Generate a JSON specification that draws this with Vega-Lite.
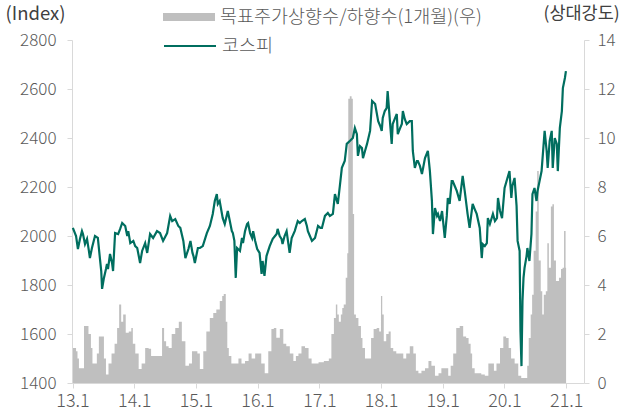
{
  "$schema": "https://vega.github.io/schema/vega-lite/v6.json",
  "width": 512,
  "height": 343,
  "autosize": {"type": "none"},
  "padding": {"left": 72, "top": 40, "right": 53, "bottom": 33},
  "background": "white",
  "config": {
    "view": {"stroke": null},
    "font": "Noto Sans CJK KR",
    "axis": {"grid": false, "labelFont": "Noto Sans CJK KR", "titleFont": "Noto Sans CJK KR", "labelFontSize": 17, "labelFontWeight": 300, "labelColor": "#595959", "domainColor": "#d9d9d9", "tickColor": "#d9d9d9", "tickSize": 5, "titleFontSize": 18.5, "titleFontWeight": 400, "titleColor": "#404040"},
    "legend": {"labelFont": "Noto Sans CJK KR", "labelFontSize": 18.5, "labelFontWeight": 300, "labelColor": "#595959", "labelLimit": 0, "padding": 0, "offset": 0}
  },
  "datasets": {
    "kospi": [
      {"date":"2013-01-03","kospi":2033},{"date":"2013-01-22","kospi":2000},{"date":"2013-02-02","kospi":1947},{"date":"2013-02-14","kospi":1988},{"date":"2013-02-26","kospi":2020},{"date":"2013-03-04","kospi":2008},{"date":"2013-03-16","kospi":1967},{"date":"2013-03-28","kospi":1988},{"date":"2013-04-08","kospi":1939},{"date":"2013-04-14","kospi":1910},{"date":"2013-04-26","kospi":1951},{"date":"2013-05-14","kospi":2000},{"date":"2013-05-31","kospi":1992},{"date":"2013-06-12","kospi":1910},{"date":"2013-06-20","kospi":1857},{"date":"2013-06-25","kospi":1784},{"date":"2013-07-06","kospi":1829},{"date":"2013-07-18","kospi":1865},{"date":"2013-07-24","kospi":1886},{"date":"2013-07-30","kospi":1865},{"date":"2013-08-11","kospi":1927},{"date":"2013-08-23","kospi":1890},{"date":"2013-08-29","kospi":1857},{"date":"2013-09-10","kospi":2012},{"date":"2013-09-28","kospi":2008},{"date":"2013-10-10","kospi":2029},{"date":"2013-10-22","kospi":2053},{"date":"2013-11-09","kospi":2041},{"date":"2013-11-21","kospi":2000},{"date":"2013-11-27","kospi":2020},{"date":"2013-12-09","kospi":1971},{"date":"2013-12-27","kospi":1980},
      {"date":"2014-01-07","kospi":1959},{"date":"2014-01-19","kospi":1951},{"date":"2014-02-05","kospi":1890},{"date":"2014-02-17","kospi":1939},{"date":"2014-03-07","kospi":1971},{"date":"2014-03-19","kospi":1931},{"date":"2014-04-05","kospi":2008},{"date":"2014-04-23","kospi":1992},{"date":"2014-05-16","kospi":2020},{"date":"2014-06-03","kospi":2012},{"date":"2014-06-21","kospi":1980},{"date":"2014-07-03","kospi":1996},{"date":"2014-07-15","kospi":2012},{"date":"2014-08-02","kospi":2082},{"date":"2014-08-14","kospi":2061},{"date":"2014-09-01","kospi":2069},{"date":"2014-09-19","kospi":2041},{"date":"2014-10-01","kospi":2033},{"date":"2014-10-19","kospi":1980},{"date":"2014-10-31","kospi":1910},{"date":"2014-11-18","kospi":1947},{"date":"2014-11-30","kospi":1980},{"date":"2014-12-12","kospi":1931},{"date":"2014-12-18","kospi":1918},{"date":"2014-12-26","kospi":1890},
      {"date":"2015-01-13","kospi":1951},{"date":"2015-01-25","kospi":1951},{"date":"2015-02-11","kospi":1959},{"date":"2015-03-07","kospi":2012},{"date":"2015-03-25","kospi":2041},{"date":"2015-04-11","kospi":2090},{"date":"2015-04-23","kospi":2143},{"date":"2015-05-05","kospi":2171},{"date":"2015-05-11","kospi":2131},{"date":"2015-05-22","kospi":2143},{"date":"2015-06-09","kospi":2073},{"date":"2015-06-21","kospi":2049},{"date":"2015-07-09","kospi":2102},{"date":"2015-07-21","kospi":2061},{"date":"2015-08-02","kospi":2020},{"date":"2015-08-08","kospi":2012},{"date":"2015-08-17","kospi":1980},{"date":"2015-08-25","kospi":1829},{"date":"2015-09-02","kospi":1951},{"date":"2015-09-19","kospi":1939},{"date":"2015-10-01","kospi":1992},{"date":"2015-10-07","kospi":1971},{"date":"2015-10-19","kospi":2020},{"date":"2015-10-31","kospi":2049},{"date":"2015-11-06","kospi":2053},{"date":"2015-11-18","kospi":2012},{"date":"2015-11-30","kospi":1992},{"date":"2015-12-06","kospi":2020},{"date":"2015-12-18","kospi":1980},{"date":"2015-12-30","kospi":1947},
      {"date":"2016-01-13","kospi":1931},{"date":"2016-01-25","kospi":1845},{"date":"2016-01-31","kospi":1898},{"date":"2016-02-11","kospi":1837},{"date":"2016-02-23","kospi":1918},{"date":"2016-03-13","kospi":1959},{"date":"2016-03-31","kospi":1988},{"date":"2016-04-23","kospi":2008},{"date":"2016-04-29","kospi":2029},{"date":"2016-05-11","kospi":2000},{"date":"2016-05-22","kospi":1988},{"date":"2016-05-28","kospi":1967},{"date":"2016-06-09","kospi":2000},{"date":"2016-06-21","kospi":2020},{"date":"2016-07-09","kospi":1931},{"date":"2016-07-21","kospi":1992},{"date":"2016-08-08","kospi":2020},{"date":"2016-08-26","kospi":2061},{"date":"2016-09-07","kospi":2053},{"date":"2016-09-19","kospi":2061},{"date":"2016-10-07","kospi":2069},{"date":"2016-10-19","kospi":2041},{"date":"2016-10-25","kospi":2020},{"date":"2016-11-06","kospi":2000},{"date":"2016-11-18","kospi":1980},{"date":"2016-12-06","kospi":1992},{"date":"2016-12-24","kospi":2041},
      {"date":"2017-01-07","kospi":2033},{"date":"2017-01-16","kospi":2033},{"date":"2017-02-03","kospi":2082},{"date":"2017-02-20","kospi":2094},{"date":"2017-03-04","kospi":2082},{"date":"2017-03-22","kospi":2090},{"date":"2017-04-03","kospi":2171},{"date":"2017-04-20","kospi":2131},{"date":"2017-05-02","kospi":2204},{"date":"2017-05-14","kospi":2278},{"date":"2017-05-31","kospi":2306},{"date":"2017-06-12","kospi":2376},{"date":"2017-06-30","kospi":2388},{"date":"2017-07-18","kospi":2400},{"date":"2017-07-30","kospi":2441},{"date":"2017-08-11","kospi":2416},{"date":"2017-08-17","kospi":2327},{"date":"2017-08-29","kospi":2367},{"date":"2017-09-10","kospi":2359},{"date":"2017-09-16","kospi":2318},{"date":"2017-09-28","kospi":2347},{"date":"2017-10-10","kospi":2376},{"date":"2017-10-28","kospi":2429},{"date":"2017-11-09","kospi":2551},{"date":"2017-11-27","kospi":2539},{"date":"2017-12-15","kospi":2469},{"date":"2017-12-27","kospi":2449},
      {"date":"2018-01-05","kospi":2429},{"date":"2018-01-11","kospi":2482},{"date":"2018-01-23","kospi":2510},{"date":"2018-02-03","kospi":2522},{"date":"2018-02-09","kospi":2592},{"date":"2018-02-21","kospi":2482},{"date":"2018-03-05","kospi":2376},{"date":"2018-03-11","kospi":2457},{"date":"2018-03-23","kospi":2478},{"date":"2018-04-04","kospi":2498},{"date":"2018-04-10","kospi":2416},{"date":"2018-04-22","kospi":2437},{"date":"2018-05-04","kospi":2457},{"date":"2018-05-10","kospi":2510},{"date":"2018-05-21","kospi":2478},{"date":"2018-06-02","kospi":2457},{"date":"2018-06-20","kospi":2469},{"date":"2018-07-02","kospi":2469},{"date":"2018-07-08","kospi":2347},{"date":"2018-07-20","kospi":2278},{"date":"2018-08-01","kospi":2306},{"date":"2018-08-07","kospi":2306},{"date":"2018-08-19","kospi":2286},{"date":"2018-08-31","kospi":2253},{"date":"2018-09-18","kospi":2318},{"date":"2018-10-05","kospi":2347},{"date":"2018-10-17","kospi":2265},{"date":"2018-10-29","kospi":2143},{"date":"2018-11-04","kospi":2008},{"date":"2018-11-16","kospi":2114},{"date":"2018-11-28","kospi":2082},{"date":"2018-12-04","kospi":2090},{"date":"2018-12-16","kospi":2061},{"date":"2018-12-28","kospi":2102},
      {"date":"2019-01-13","kospi":1992},{"date":"2019-01-25","kospi":2082},{"date":"2019-01-31","kospi":2155},{"date":"2019-02-11","kospi":2131},{"date":"2019-02-23","kospi":2224},{"date":"2019-03-01","kospi":2224},{"date":"2019-03-13","kospi":2204},{"date":"2019-03-25","kospi":2184},{"date":"2019-04-11","kospi":2143},{"date":"2019-04-29","kospi":2245},{"date":"2019-05-11","kospi":2184},{"date":"2019-05-28","kospi":2090},{"date":"2019-06-09","kospi":2033},{"date":"2019-06-27","kospi":2131},{"date":"2019-07-09","kospi":2110},{"date":"2019-07-21","kospi":2090},{"date":"2019-08-08","kospi":2033},{"date":"2019-08-20","kospi":1910},{"date":"2019-08-26","kospi":1967},{"date":"2019-09-07","kospi":1959},{"date":"2019-09-19","kospi":1971},{"date":"2019-09-25","kospi":2073},{"date":"2019-10-07","kospi":2049},{"date":"2019-10-25","kospi":2090},{"date":"2019-11-06","kospi":2061},{"date":"2019-11-18","kospi":2073},{"date":"2019-11-24","kospi":2155},{"date":"2019-12-06","kospi":2102},{"date":"2019-12-18","kospi":2073},
      {"date":"2020-01-02","kospi":2196},{"date":"2020-01-19","kospi":2237},{"date":"2020-01-31","kospi":2265},{"date":"2020-02-11","kospi":2155},{"date":"2020-02-17","kospi":2204},{"date":"2020-03-01","kospi":2237},{"date":"2020-03-13","kospi":2122},{"date":"2020-03-19","kospi":1980},{"date":"2020-03-31","kospi":1939},{"date":"2020-04-05","kospi":1612},{"date":"2020-04-11","kospi":1469},{"date":"2020-04-17","kospi":1735},{"date":"2020-04-23","kospi":1829},{"date":"2020-04-29","kospi":1869},{"date":"2020-05-11","kospi":1918},{"date":"2020-05-16","kospi":1951},{"date":"2020-05-28","kospi":1898},{"date":"2020-06-09","kospi":2008},{"date":"2020-06-15","kospi":2171},{"date":"2020-06-27","kospi":2196},{"date":"2020-07-09","kospi":2143},{"date":"2020-07-15","kospi":2184},{"date":"2020-07-27","kospi":2224},{"date":"2020-08-08","kospi":2265},{"date":"2020-08-26","kospi":2429},{"date":"2020-09-07","kospi":2347},{"date":"2020-09-13","kospi":2278},{"date":"2020-09-25","kospi":2388},{"date":"2020-10-07","kospi":2429},{"date":"2020-10-13","kospi":2278},{"date":"2020-10-25","kospi":2400},{"date":"2020-11-06","kospi":2376},{"date":"2020-11-12","kospi":2265},{"date":"2020-11-24","kospi":2441},{"date":"2020-12-06","kospi":2510},{"date":"2020-12-12","kospi":2604},{"date":"2020-12-24","kospi":2645},{"date":"2020-12-30","kospi":2673}
    ],
    "ratio": [
      {"date":"2013-01-04","ratio":1.43},{"date":"2013-01-16","ratio":1.43},{"date":"2013-01-28","ratio":1.3},{"date":"2013-02-02","ratio":1.0},{"date":"2013-02-14","ratio":0.6},{"date":"2013-03-04","ratio":0.6},{"date":"2013-03-16","ratio":2.33},{"date":"2013-03-28","ratio":2.33},{"date":"2013-04-14","ratio":2.0},{"date":"2013-04-26","ratio":1.43},{"date":"2013-05-02","ratio":0.8},{"date":"2013-05-19","ratio":0.8},{"date":"2013-05-31","ratio":1.2},{"date":"2013-06-12","ratio":1.9},{"date":"2013-06-30","ratio":1.9},{"date":"2013-07-12","ratio":1.0},{"date":"2013-07-24","ratio":0.35},{"date":"2013-08-11","ratio":0.8},{"date":"2013-08-29","ratio":1.2},{"date":"2013-09-16","ratio":1.6},{"date":"2013-09-28","ratio":2.25},{"date":"2013-10-10","ratio":3.2},{"date":"2013-10-22","ratio":2.5},{"date":"2013-11-03","ratio":2.8},{"date":"2013-11-21","ratio":2.05},{"date":"2013-12-09","ratio":2.1},{"date":"2013-12-21","ratio":2.25},{"date":"2013-12-27","ratio":1.6},
      {"date":"2014-01-19","ratio":1.2},{"date":"2014-02-05","ratio":0.57},{"date":"2014-02-23","ratio":0.8},{"date":"2014-03-19","ratio":1.43},{"date":"2014-04-05","ratio":1.4},{"date":"2014-04-17","ratio":1.1},{"date":"2014-05-05","ratio":1.1},{"date":"2014-05-22","ratio":1.1},{"date":"2014-06-09","ratio":1.1},{"date":"2014-06-21","ratio":2.25},{"date":"2014-07-03","ratio":1.7},{"date":"2014-07-15","ratio":1.5},{"date":"2014-08-02","ratio":1.43},{"date":"2014-08-20","ratio":2.0},{"date":"2014-09-13","ratio":2.25},{"date":"2014-10-01","ratio":2.5},{"date":"2014-10-19","ratio":1.7},{"date":"2014-11-12","ratio":0.7},{"date":"2014-11-30","ratio":0.8},{"date":"2014-12-18","ratio":1.3},
      {"date":"2015-01-07","ratio":1.3},{"date":"2015-01-13","ratio":1.2},{"date":"2015-02-05","ratio":0.57},{"date":"2015-02-23","ratio":1.3},{"date":"2015-03-13","ratio":2.1},{"date":"2015-04-05","ratio":2.65},{"date":"2015-04-23","ratio":2.86},{"date":"2015-05-11","ratio":3.0},{"date":"2015-06-03","ratio":3.35},{"date":"2015-06-09","ratio":3.55},{"date":"2015-06-21","ratio":3.63},{"date":"2015-07-03","ratio":2.5},{"date":"2015-07-09","ratio":1.43},{"date":"2015-07-21","ratio":1.1},{"date":"2015-08-08","ratio":0.8},{"date":"2015-09-01","ratio":0.8},{"date":"2015-09-19","ratio":1.0},{"date":"2015-10-07","ratio":0.8},{"date":"2015-10-31","ratio":0.9},{"date":"2015-11-18","ratio":1.2},{"date":"2015-12-06","ratio":1.0},{"date":"2015-12-30","ratio":1.2},
      {"date":"2016-01-14","ratio":1.2},{"date":"2016-02-01","ratio":0.8},{"date":"2016-02-24","ratio":0.4},{"date":"2016-03-14","ratio":1.3},{"date":"2016-04-01","ratio":2.2},{"date":"2016-04-12","ratio":2.25},{"date":"2016-04-30","ratio":1.85},{"date":"2016-05-24","ratio":2.2},{"date":"2016-06-10","ratio":1.6},{"date":"2016-06-28","ratio":1.5},{"date":"2016-07-22","ratio":1.2},{"date":"2016-08-09","ratio":0.9},{"date":"2016-08-21","ratio":1.1},{"date":"2016-09-08","ratio":1.2},{"date":"2016-09-26","ratio":1.5},{"date":"2016-10-20","ratio":1.43},{"date":"2016-11-07","ratio":1.0},{"date":"2016-11-25","ratio":0.8},{"date":"2016-12-19","ratio":0.8},
      {"date":"2017-01-04","ratio":0.85},{"date":"2017-01-22","ratio":0.85},{"date":"2017-02-02","ratio":0.9},{"date":"2017-02-20","ratio":0.9},{"date":"2017-03-04","ratio":1.0},{"date":"2017-03-22","ratio":2.0},{"date":"2017-04-03","ratio":2.65},{"date":"2017-04-14","ratio":3.2},{"date":"2017-04-20","ratio":2.8},{"date":"2017-05-02","ratio":2.5},{"date":"2017-05-14","ratio":2.8},{"date":"2017-05-19","ratio":3.06},{"date":"2017-05-31","ratio":3.2},{"date":"2017-06-12","ratio":4.3},{"date":"2017-06-18","ratio":5.3},{"date":"2017-06-24","ratio":11.6},{"date":"2017-07-06","ratio":11.7},{"date":"2017-07-15","ratio":11.6},{"date":"2017-07-21","ratio":6.9},{"date":"2017-07-30","ratio":2.8},{"date":"2017-08-11","ratio":2.65},{"date":"2017-08-29","ratio":2.33},{"date":"2017-09-10","ratio":1.84},{"date":"2017-09-16","ratio":1.43},{"date":"2017-10-10","ratio":1.0},{"date":"2017-10-28","ratio":1.0},{"date":"2017-11-09","ratio":1.84},{"date":"2017-11-27","ratio":2.2},{"date":"2017-12-15","ratio":2.25},{"date":"2017-12-27","ratio":2.1},
      {"date":"2018-01-05","ratio":3.55},{"date":"2018-01-11","ratio":2.8},{"date":"2018-01-23","ratio":1.7},{"date":"2018-02-09","ratio":2.0},{"date":"2018-02-21","ratio":2.1},{"date":"2018-03-05","ratio":1.43},{"date":"2018-03-23","ratio":1.3},{"date":"2018-04-10","ratio":1.2},{"date":"2018-05-04","ratio":1.2},{"date":"2018-05-21","ratio":1.0},{"date":"2018-06-08","ratio":1.2},{"date":"2018-07-02","ratio":1.5},{"date":"2018-07-20","ratio":1.2},{"date":"2018-08-01","ratio":0.5},{"date":"2018-08-19","ratio":0.4},{"date":"2018-09-06","ratio":0.5},{"date":"2018-09-30","ratio":0.6},{"date":"2018-10-17","ratio":0.9},{"date":"2018-11-04","ratio":0.7},{"date":"2018-11-28","ratio":0.3},{"date":"2018-12-16","ratio":0.4},
      {"date":"2019-01-01","ratio":0.6},{"date":"2019-01-25","ratio":0.6},{"date":"2019-02-11","ratio":0.3},{"date":"2019-02-23","ratio":0.7},{"date":"2019-03-13","ratio":1.2},{"date":"2019-03-31","ratio":2.25},{"date":"2019-04-23","ratio":2.33},{"date":"2019-05-11","ratio":1.9},{"date":"2019-05-28","ratio":1.84},{"date":"2019-06-09","ratio":1.6},{"date":"2019-06-21","ratio":1.2},{"date":"2019-06-27","ratio":0.6},{"date":"2019-07-21","ratio":0.4},{"date":"2019-08-08","ratio":0.4},{"date":"2019-08-26","ratio":0.35},{"date":"2019-09-19","ratio":0.3},{"date":"2019-10-07","ratio":0.8},{"date":"2019-10-25","ratio":0.8},{"date":"2019-11-06","ratio":0.5},{"date":"2019-11-24","ratio":0.8},{"date":"2019-12-18","ratio":1.43},
      {"date":"2020-01-02","ratio":1.9},{"date":"2020-01-20","ratio":1.84},{"date":"2020-02-01","ratio":1.43},{"date":"2020-02-18","ratio":1.0},{"date":"2020-03-14","ratio":0.8},{"date":"2020-04-01","ratio":0.3},{"date":"2020-04-18","ratio":0.2},{"date":"2020-05-12","ratio":0.2},{"date":"2020-05-18","ratio":0.7},{"date":"2020-05-30","ratio":1.84},{"date":"2020-06-10","ratio":2.8},{"date":"2020-06-16","ratio":3.6},{"date":"2020-06-28","ratio":5.4},{"date":"2020-07-10","ratio":7.0},{"date":"2020-07-16","ratio":8.65},{"date":"2020-07-28","ratio":5.0},{"date":"2020-08-09","ratio":3.75},{"date":"2020-08-15","ratio":2.8},{"date":"2020-08-27","ratio":3.6},{"date":"2020-09-08","ratio":3.75},{"date":"2020-09-14","ratio":5.7},{"date":"2020-09-26","ratio":4.7},{"date":"2020-10-08","ratio":7.2},{"date":"2020-10-14","ratio":7.3},{"date":"2020-10-26","ratio":5.0},{"date":"2020-11-07","ratio":4.16},{"date":"2020-11-13","ratio":4.16},{"date":"2020-11-25","ratio":4.3},{"date":"2020-12-07","ratio":4.65},{"date":"2020-12-13","ratio":4.7},{"date":"2020-12-25","ratio":6.2},{"date":"2020-12-31","ratio":4.7}
    ]
  },
  "layer": [
    {
      "data": {"name": "ratio"},
      "mark": {"type": "area", "interpolate": "step", "opacity": 1},
      "encoding": {
        "x": {
          "field": "date", "type": "temporal",
          "scale": {"type": "utc", "domain": [{"year": 2012, "month": 12, "date": 29, "utc": true}, {"year": 2021, "month": 4, "date": 16, "utc": true}]},
          "axis": {
            "title": null, "labelExpr": "utcFormat(datum.value, '%y') + '.1'", "labelFontSize": 18, "labelPadding": 4, "labelFlush": false, "labelOverlap": false,
            "values": [
              {"year": 2013, "month": 1, "date": 1, "utc": true}, {"year": 2014, "month": 1, "date": 1, "utc": true},
              {"year": 2015, "month": 1, "date": 1, "utc": true}, {"year": 2016, "month": 1, "date": 1, "utc": true},
              {"year": 2017, "month": 1, "date": 1, "utc": true}, {"year": 2018, "month": 1, "date": 1, "utc": true},
              {"year": 2019, "month": 1, "date": 1, "utc": true}, {"year": 2020, "month": 1, "date": 1, "utc": true},
              {"year": 2021, "month": 1, "date": 1, "utc": true}
            ]
          }
        },
        "y": {
          "field": "ratio", "type": "quantitative",
          "scale": {"domain": [0, 14], "nice": false},
          "axis": {"orient": "right", "values": [0, 2, 4, 6, 8, 10, 12, 14], "format": "d", "labelPadding": 8, "title": "(상대강도)", "titleFontSize": 17.5, "titleAngle": 0, "titleAlign": "left", "titleBaseline": "middle", "titleX": -41, "titleY": -27}
        },
        "fill": {
          "datum": "목표주가상향수/하향수(1개월)(우)",
          "scale": {"range": ["#bfbfbf"]},
          "legend": {"orient": "none", "legendX": 91, "legendY": -49, "title": null, "symbolType": "M-1,-0.15H1V0.15H-1Z", "symbolSize": 2704, "symbolStrokeWidth": 0, "symbolOpacity": 1, "labelOffset": 5, "labelLimit": 0}
        }
      }
    },
    {
      "data": {"name": "kospi"},
      "mark": {"type": "line", "strokeWidth": 2.2},
      "encoding": {
        "x": {"field": "date", "type": "temporal"},
        "y": {
          "field": "kospi", "type": "quantitative",
          "scale": {"domain": [1400, 2800], "nice": false},
          "axis": {"orient": "left", "values": [1400, 1600, 1800, 2000, 2200, 2400, 2600, 2800], "format": "d", "labelPadding": 11, "title": "(Index)", "titleAngle": 0, "titleAlign": "left", "titleBaseline": "middle", "titleX": -67, "titleY": -27}
        },
        "stroke": {
          "datum": "코스피",
          "scale": {"range": ["#006e5f"]},
          "legend": {"orient": "none", "legendX": 91, "legendY": -21, "title": null, "symbolType": "M-1,0H1", "symbolSize": 2704, "symbolStrokeWidth": 2, "symbolFillColor": "transparent", "symbolOpacity": 1, "labelOffset": 5}
        }
      }
    }
  ],
  "resolve": {"scale": {"y": "independent"}}
}
